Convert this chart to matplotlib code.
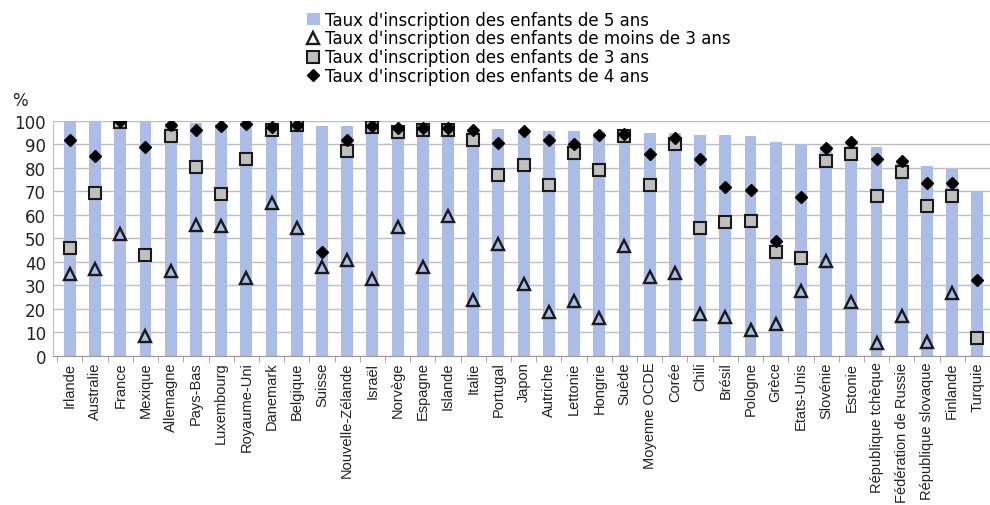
import numpy as np
import matplotlib.pyplot as plt

# Countries (sorted by enrolment rate of 5-year-olds)
pays = ['Irlande', 'Australie', 'France', 'Mexique', 'Allemagne', 'Pays-Bas',
        'Luxembourg', 'Royaume-Uni', 'Danemark', 'Belgique', 'Suisse',
        'Nouvelle-Zélande', 'Israël', 'Norvège', 'Espagne', 'Islande', 'Italie',
        'Portugal', 'Japon', 'Autriche', 'Lettonie', 'Hongrie', 'Suède',
        'Moyenne OCDE', 'Corée', 'Chili', 'Brésil', 'Pologne', 'Grèce',
        'Etats-Unis', 'Slovénie', 'Estonie', 'République tchèque',
        'Fédération de Russie', 'République slovaque', 'Finlande', 'Turquie']

# Enrolment rates (%)
taux_5ans = [100, 100, 100, 100, 99, 99, 98.5, 98.5, 98, 98, 98, 98, 97.5,
             97.5, 97, 97, 96.5, 96.5, 96, 95.8, 95.8, 95.5, 95.2, 95, 94.8,
             94.2, 94.2, 93.5, 91.2, 90, 89.5, 89.2, 88.8, 83, 80.7, 79.5, 70]
taux_moins3 = [34.7, 37.1, 51.8, 8.5, 36.3, 55.6, 55.1, 33.3, 65.1, 54.4, 37.9,
               40.7, 32.8, 54.7, 37.9, 59.6, 23.9, 47.7, 30.6, 18.8, 23.2, 16.0,
               46.6, 33.5, 35.2, 17.9, 16.5, 10.9, 13.4, 27.5, 40.3, 22.9, 5.5,
               16.8, 6.0, 27.0, np.nan]
taux_3ans = [45.8, 69.5, 99.6, 43.1, 93.8, 80.6, 68.9, 83.8, 96.2, 98.2, np.nan,
             87.4, 97.5, 95.3, 96.0, 96.2, 92.1, 77.0, 81.4, 72.9, 86.2, 79.0,
             93.5, 72.9, 90.0, 54.4, 56.8, 57.6, 44.2, 41.9, 82.9, 85.9, 68.2,
             78.4, 63.8, 68.2, 7.6]
taux_4ans = [92.1, 85.2, 100, 88.8, 98.3, 96.2, 97.9, 98.9, 97.5, 98.2, 44.2,
             92.1, 97.9, 96.8, 97.0, 97.0, 96.3, 90.7, 95.8, 91.8, 90.3, 93.9,
             94.4, 85.9, 92.8, 83.8, 71.8, 70.8, 49.0, 67.5, 88.7, 91.2, 83.6,
             82.8, 73.7, 73.7, 32.2]

x = np.arange(len(pays))

plt.rcParams['font.family'] = ['DejaVu Sans']

fig = plt.figure(figsize=(9.9, 5.06), dpi=100)
ax = fig.add_axes([0.0535, 0.2945, 0.9465, 0.4645])

b5 = ax.bar(x, taux_5ans, width=0.47, color='#abbde6', zorder=2,
            label="Taux d'inscription des enfants de 5 ans")
m3, = ax.plot(x, taux_moins3, linestyle='none', marker='^', markersize=8,
              markerfacecolor='none', markeredgecolor='#1a1a1a',
              markeredgewidth=1.7, zorder=3,
              label="Taux d'inscription des enfants de moins de 3 ans")
a3, = ax.plot(x, taux_3ans, linestyle='none', marker='s', markersize=8.5,
              markerfacecolor='#c0c0c0', markeredgecolor='#1a1a1a',
              markeredgewidth=1.5, zorder=4,
              label="Taux d'inscription des enfants de 3 ans")
a4, = ax.plot(x, taux_4ans, linestyle='none', marker='D', markersize=6.5,
              color='black', zorder=5,
              label="Taux d'inscription des enfants de 4 ans")

ax.set_xlim(-0.67, 36.17)
ax.set_ylim(0, 100)
ax.set_yticks(np.arange(0, 101, 10))
ax.tick_params(axis='y', labelsize=12, length=0, pad=5, colors='#222222')
ax.grid(axis='y', color='#bdbdbd', linewidth=1, zorder=0)

ax.set_xticks(x)
ax.set_xticklabels(pays, rotation=90, fontsize=10.5, color='#222222',
                   family='Liberation Sans')
ax.set_xticks(np.arange(-0.5, len(pays), 1), minor=True)
ax.tick_params(axis='x', which='major', length=0, pad=4)
ax.tick_params(axis='x', which='minor', length=4, color='#999999')

for s in ['top', 'right']:
    ax.spines[s].set_visible(False)
ax.spines['left'].set_color('#bdbdbd')
ax.spines['bottom'].set_color('#999999')

fig.text(0.012, 0.79, '%', fontsize=12, color='#222222')

fig.legend(handles=[b5, m3, a3, a4], loc='upper left',
           bbox_to_anchor=(0.298, 1.0), frameon=False, fontsize=12,
           handlelength=0.8, handletextpad=0.3, labelspacing=0.05,
           borderaxespad=0.3)

fig.savefig('out.png', dpi=100)
